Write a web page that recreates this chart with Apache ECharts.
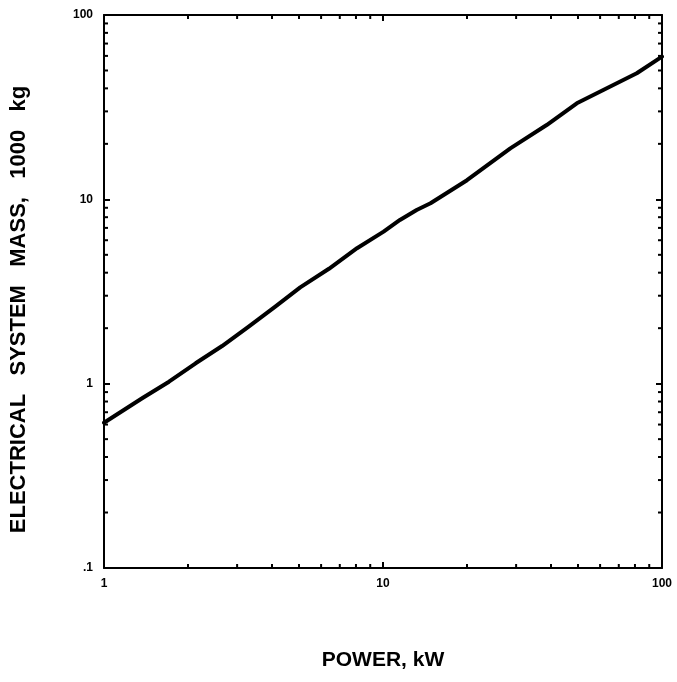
<!DOCTYPE html>
<html>
<head>
<meta charset="utf-8">
<script src="https://cdn.jsdelivr.net/npm/echarts@6/dist/echarts.min.js"></script>
<style>
html,body{margin:0;padding:0;background:#fff;}
#chart{width:677px;height:682px;}
</style>
</head>
<body>
<div id="chart"></div>
<script>
// Data
const powerKW = [1, 1.37, 1.71, 2.13, 2.65, 3.30, 4.11, 5.05, 6.4, 8.07, 10.05, 11.5, 13.2, 14.8, 20.0, 28.6, 38.6, 49.5, 61.6, 81.2, 100];
const massT   = [0.614, 0.834, 1.025, 1.29, 1.60, 2.04, 2.62, 3.33, 4.2, 5.43, 6.68, 7.73, 8.76, 9.52, 12.7, 18.9, 25.3, 33.2, 39.2, 48.3, 59.5];
const xMinorTicks = [2, 3, 4, 5, 6, 7, 8, 9, 20, 30, 40, 50, 60, 70, 80, 90];
const yMinorTicks = [0.2, 0.3, 0.4, 0.5, 0.6, 0.7, 0.8, 0.9, 2, 3, 4, 5, 6, 7, 8, 9, 20, 30, 40, 50, 60, 70, 80, 90];
const xTitle = 'POWER, kW';
const yTitle = 'ELECTRICAL   SYSTEM   MASS,   1000   kg';

const FONT = '"Liberation Sans", Arial, Helvetica, sans-serif';
const fmt = v => {
  const r = Math.round(v * 10) / 10;
  return r < 1 ? String(r).replace(/^0\./, '.') : String(Math.round(r));
};

const lineData = powerKW.map((x, i) => [x, massT[i]]);
const tickData = xMinorTicks.map(v => [v, 1, 0]).concat(yMinorTicks.map(v => [1, v, 1]));

const axisLine = { show: true, onZero: false, lineStyle: { color: '#000', width: 2 } };
const majorTick = { show: true, inside: true, length: 6, lineStyle: { color: '#000', width: 2 } };

const chart = echarts.init(document.getElementById('chart'), null, { renderer: 'canvas' });
chart.setOption({
  animation: false,
  backgroundColor: '#fff',
  grid: { left: 104, right: 15, top: 15, bottom: 114, containLabel: false },
  xAxis: [
    {
      type: 'log', logBase: 10, min: 1, max: 100, position: 'bottom',
      name: xTitle, nameLocation: 'middle', nameGap: 82,
      nameTextStyle: { fontFamily: FONT, fontWeight: 'bold', fontSize: 21, color: '#000' },
      axisLine: axisLine, axisTick: majorTick, splitLine: { show: false }, minorTick: { show: false },
      axisLabel: { show: true, margin: 10, fontFamily: FONT, fontWeight: 'bold', fontSize: 12, color: '#000', formatter: fmt }
    },
    {
      type: 'log', logBase: 10, min: 1, max: 100, position: 'top',
      axisLine: axisLine, axisTick: majorTick, splitLine: { show: false }, axisLabel: { show: false }
    }
  ],
  yAxis: [
    {
      type: 'log', logBase: 10, min: 0.1, max: 100, position: 'left',
      name: yTitle, nameLocation: 'middle', nameGap: 74, nameRotate: 90,
      nameTextStyle: { fontFamily: FONT, fontWeight: 'bold', fontSize: 22, color: '#000', padding: [0, 36, 0, 0] },
      axisLine: axisLine, axisTick: majorTick, splitLine: { show: false }, minorTick: { show: false },
      axisLabel: { show: true, margin: 11, fontFamily: FONT, fontWeight: 'bold', fontSize: 12, color: '#000', formatter: fmt }
    },
    {
      type: 'log', logBase: 10, min: 0.1, max: 100, position: 'right',
      axisLine: axisLine, axisTick: majorTick, splitLine: { show: false }, axisLabel: { show: false }
    }
  ],
  series: [
    {
      type: 'line',
      xAxisIndex: 0, yAxisIndex: 0,
      data: lineData,
      showSymbol: false, symbol: 'none', smooth: false,
      lineStyle: { color: '#000', width: 4, cap: 'round', join: 'round' },
      z: 5
    },
    {
      type: 'custom',
      xAxisIndex: 0, yAxisIndex: 0,
      data: tickData,
      silent: true,
      clip: false,
      renderItem: function (params, api) {
        const v0 = api.value(0), v1 = api.value(1), kind = api.value(2);
        const L = 4;
        const style = { stroke: '#000', lineWidth: 2 };
        if (kind === 0) {
          const a = api.coord([v0, 0.1]);
          const b = api.coord([v0, 100]);
          return { type: 'group', children: [
            { type: 'line', shape: { x1: a[0], y1: a[1], x2: a[0], y2: a[1] - L }, style: style },
            { type: 'line', shape: { x1: b[0], y1: b[1], x2: b[0], y2: b[1] + L }, style: style }
          ] };
        } else {
          const a = api.coord([1, v1]);
          const b = api.coord([100, v1]);
          return { type: 'group', children: [
            { type: 'line', shape: { x1: a[0], y1: a[1], x2: a[0] + L, y2: a[1] }, style: style },
            { type: 'line', shape: { x1: b[0], y1: b[1], x2: b[0] - L, y2: b[1] }, style: style }
          ] };
        }
      },
      z: 4
    }
  ]
});
</script>
</body>
</html>
